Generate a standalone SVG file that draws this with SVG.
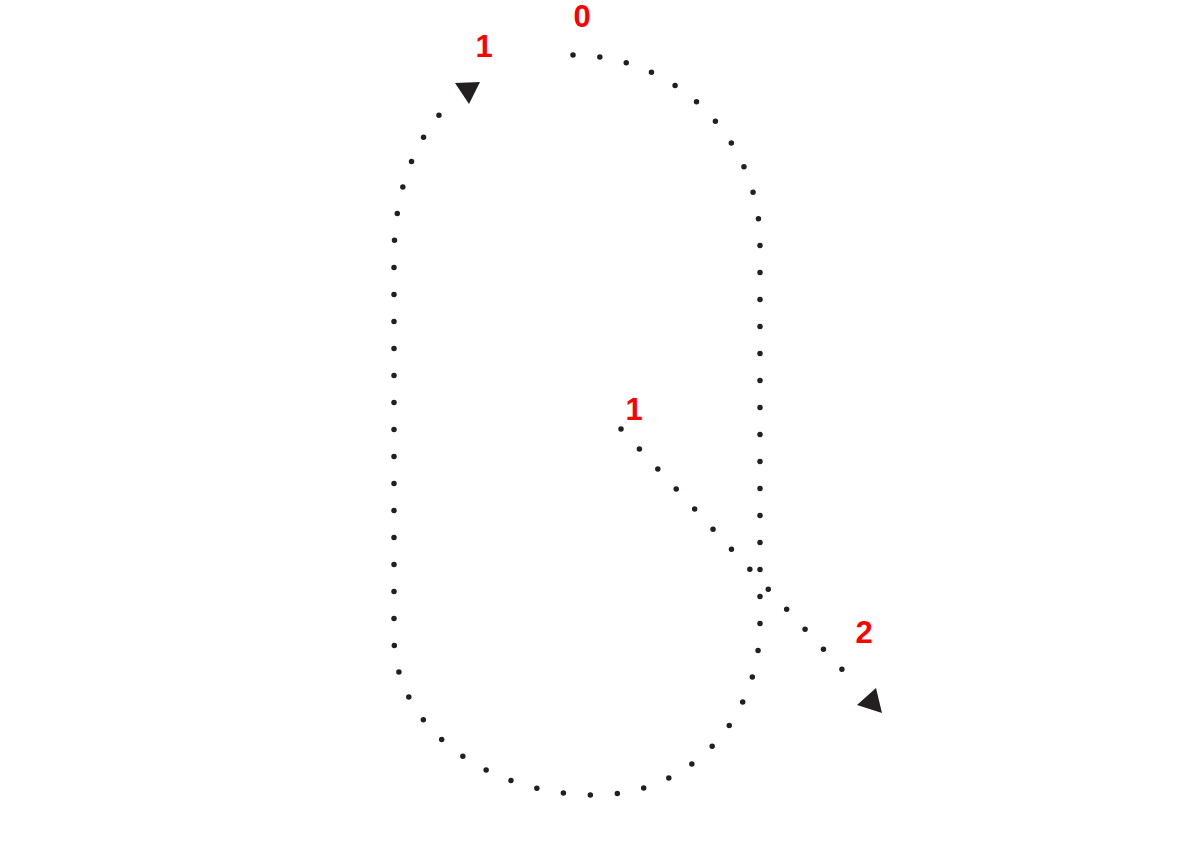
<svg xmlns="http://www.w3.org/2000/svg" width="1191" height="842" viewBox="0 0 1191 842">
<style>
.dot{fill:none;stroke:#231f20;stroke-width:5.5;stroke-linecap:round;stroke-dasharray:0 27}
.head{fill:#231f20}
.lbl{font-family:"Liberation Sans",Arial,sans-serif;font-size:31px;font-weight:bold;fill:#ff0000;text-anchor:middle}
</style>
<rect width="1191" height="842" fill="#ffffff"/>
<g id="connectors">
<path class="dot" d="M573 55 A187 188 0 0 1 760 243 L760 623 C760 720 690 795 595 795 C490 795 394 730 394 636 L394 258 C394 190 415 140 447 106"/>
<polygon class="head" points="455,83 480,82 469,104"/>
<path class="dot" style="stroke-dasharray:0 27.2" d="M621 429 L860 689"/>
<polygon class="head" points="857,705 876,688 882,713"/>
</g>
<g id="labels">
<text class="lbl" x="582" y="27">0</text>
<text class="lbl" x="484" y="57">1</text>
<text class="lbl" x="634" y="420">1</text>
<text class="lbl" x="864" y="643">2</text>
</g>
</svg>
